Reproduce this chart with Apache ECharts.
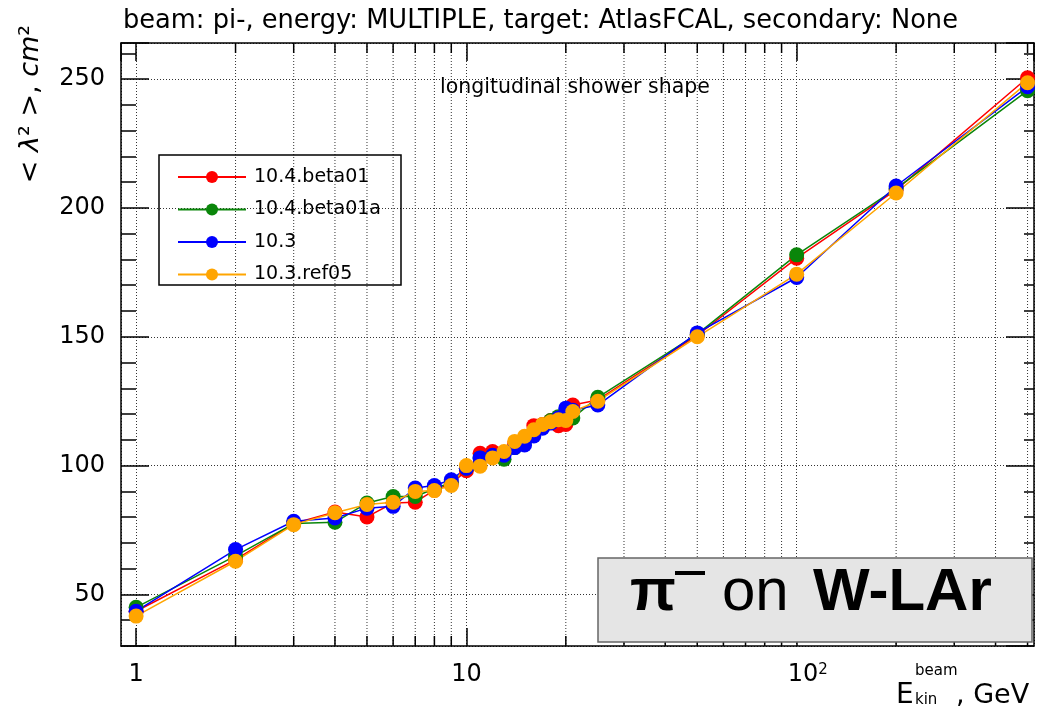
<!DOCTYPE html>
<html>
<head>
<meta charset="utf-8">
<script src="https://cdn.jsdelivr.net/npm/echarts@6.0.0/dist/echarts.min.js"></script>
<style>
  html, body { margin: 0; padding: 0; background: #fff; }
  #chart { width: 1039px; height: 710px; }
</style>
</head>
<body>
<div id="chart"></div>
<script>
// beam energies, GeV
const energies = [1, 2, 3, 4, 5, 6, 7, 8, 9, 10, 11, 12, 13, 14, 15, 16, 17, 18, 19, 20, 21, 25, 50, 100, 200, 500]

// <lambda^2>, cm^2 per release
const beta01 = [43.5, 63.5, 77.5, 82, 80.1, 85.5, 85.8, 90.5, 93, 98, 104.8, 105.5, 105, 108.5, 110.5, 115.5, 116, 117.5, 115.5, 116, 123.5, 125.5, 150.5, 180.5, 207, 250.5]
const beta01a = [45, 65, 77.5, 78, 85.5, 88, 88, 91, 93.5, 99, 103, 103.5, 102.5, 107, 109.5, 113, 115.5, 117.5, 119, 118.5, 118.5, 126.5, 151, 181.8, 207.5, 245.5]
const v103 = [43.5, 67.4, 78.4, 79.7, 83.5, 84.2, 91.3, 92.3, 94.5, 99, 103, 104, 104, 107, 108, 111.5, 114.5, 116.5, 118.5, 122.3, 121.5, 123.5, 151.5, 173, 208.5, 247]
const ref05 = [41.6, 62.9, 77.1, 81.7, 84.9, 85.8, 90, 90.3, 92.3, 100, 99.8, 103, 105.5, 109.4, 111.4, 113.9, 116, 117, 117.8, 117.5, 121, 125, 150, 174.3, 205.8, 248.6]

const seriesNames = ['10.4.beta01', '10.4.beta01a', '10.3', '10.3.ref05']
const seriesColors = ['#ff0000', '#0a860a', '#0000ff', '#ffa500']

// log-axis minor ticks (2..9 per decade)
const xMinorTicks = [2, 3, 4, 5, 6, 7, 8, 9, 20, 30, 40, 50, 60, 70, 80, 90, 200, 300, 400, 500]
const xRange = [0.9, 523]
const yRange = [30, 264]

const FONT = 'DejaVu Sans'
const dotted = { color: '#333', width: 1, type: [1, 2] }
const black = { color: '#000', width: 1.5 }

const chart = echarts.init(document.getElementById('chart'))

const lineSeries = (name, values, color) => ({
  name,
  type: 'line',
  data: energies.map((e, i) => [e, values[i]]),
  symbol: 'circle',
  symbolSize: 15,
  itemStyle: { color },
  lineStyle: { color, width: 1.5 },
  z: 3
})

const xLabel = (v) => {
  if (Math.abs(v - 1) < 1e-6) return '1'
  if (Math.abs(v - 10) < 1e-6) return '10'
  if (Math.abs(v - 100) < 1e-4) return '{p|10}{s|2}'
  return ''
}

const option = {
  animation: false,
  textStyle: { fontFamily: FONT, color: '#000' },
  grid: { left: 121, right: 5, top: 43, bottom: 64, containLabel: false, outerBoundsMode: 'none' },
  legend: {
    orient: 'vertical',
    left: 172,
    top: 162,
    itemWidth: 68,
    itemHeight: 15,
    itemGap: 12.5,
    data: seriesNames,
    textStyle: { fontFamily: FONT, fontSize: 19, color: '#000', lineHeight: 20, padding: [0, 0, 0, 3] }
  },
  xAxis: [
    {
      type: 'log', logBase: 10, position: 'bottom', min: xRange[0], max: xRange[1],
      axisLine: { show: true, onZero: false, lineStyle: black },
      axisTick: { show: true, inside: true, length: 18, lineStyle: black },
      axisLabel: {
        show: true, margin: 17, fontSize: 24, fontFamily: FONT, color: '#000',
        showMinLabel: false, showMaxLabel: false,
        formatter: xLabel,
        rich: {
          p: { fontSize: 24, fontFamily: FONT, padding: [0, 0, 0, 22] },
          s: { fontSize: 15, fontFamily: FONT, verticalAlign: 'top' }
        }
      },
      splitLine: { show: true, lineStyle: dotted },
      minorTick: { show: false },
      minorSplitLine: { show: false }
    },
    {
      type: 'log', logBase: 10, position: 'top', min: xRange[0], max: xRange[1],
      axisLine: { show: true, onZero: false, lineStyle: black },
      axisTick: { show: true, inside: true, length: 18, lineStyle: black },
      axisLabel: { show: false },
      splitLine: { show: false }
    }
  ],
  yAxis: [
    {
      type: 'value', position: 'left', min: yRange[0], max: yRange[1], splitNumber: 5,
      axisLine: { show: true, lineStyle: black },
      axisTick: { show: true, inside: true, length: 28, lineStyle: black },
      axisLabel: {
        margin: 16, fontSize: 24, fontFamily: FONT, color: '#000',
        formatter: (v) => (v % 50 === 0 ? String(v) : '')
      },
      splitLine: { show: true, lineStyle: dotted }
    },
    {
      type: 'value', position: 'left', min: yRange[0], max: yRange[1], interval: 10,
      axisLine: { show: false },
      axisTick: { show: true, inside: true, length: 15, lineStyle: black },
      axisLabel: { show: false },
      splitLine: { show: false }
    },
    {
      type: 'value', position: 'right', min: yRange[0], max: yRange[1], splitNumber: 5,
      axisLine: { show: true, lineStyle: black },
      axisTick: { show: true, inside: true, length: 28, lineStyle: black },
      axisLabel: { show: false },
      splitLine: { show: false }
    },
    {
      type: 'value', position: 'right', min: yRange[0], max: yRange[1], interval: 10,
      axisLine: { show: false },
      axisTick: { show: true, inside: true, length: 10, lineStyle: black },
      axisLabel: { show: false },
      splitLine: { show: false }
    }
  ],
  series: [
    {
      type: 'custom',
      silent: true,
      z: 1,
      data: xMinorTicks.map((v) => [v, yRange[0]]),
      encode: { x: 0, y: 1 },
      renderItem: (params, api) => {
        const x = api.coord([api.value(0), yRange[0]])[0]
        const cs = params.coordSys
        const top = cs.y
        const bot = cs.y + cs.height
        return {
          type: 'group',
          children: [
            { type: 'line', shape: { x1: x, y1: top, x2: x, y2: bot }, style: { stroke: '#333', lineWidth: 1, lineDash: [1, 2] } },
            { type: 'line', shape: { x1: x, y1: bot, x2: x, y2: bot - 10 }, style: { stroke: '#000', lineWidth: 1.5 } },
            { type: 'line', shape: { x1: x, y1: top, x2: x, y2: top + 10 }, style: { stroke: '#000', lineWidth: 1.5 } }
          ]
        }
      }
    },
    lineSeries(seriesNames[0], beta01, seriesColors[0]),
    lineSeries(seriesNames[1], beta01a, seriesColors[1]),
    lineSeries(seriesNames[2], v103, seriesColors[2]),
    lineSeries(seriesNames[3], ref05, seriesColors[3])
  ],
  graphic: [
    {
      type: 'text', x: 123, y: 21, z: 50,
      style: { text: 'beam: pi-, energy: MULTIPLE, target: AtlasFCAL, secondary: None', font: '25.7px "DejaVu Sans"', fill: '#000', align: 'left', verticalAlign: 'middle' }
    },
    {
      type: 'text', x: 440, y: 88, z: 50,
      style: { text: 'longitudinal shower shape', font: '20.5px "DejaVu Sans"', fill: '#000', align: 'left', verticalAlign: 'middle' }
    },
    {
      type: 'text', x: 31, y: 104, rotation: Math.PI / 2, z: 50,
      style: {
        text: '{n|< }{i|λ}{n|² >, }{i|cm}{n|²}',
        align: 'center', verticalAlign: 'middle',
        rich: {
          n: { font: '27px "DejaVu Sans"', fill: '#000' },
          i: { font: 'italic 27px "DejaVu Sans"', fill: '#000' }
        }
      }
    },
    {
      type: 'rect', z: 50, silent: true,
      shape: { x: 159, y: 155, width: 242, height: 130 },
      style: { fill: 'none', stroke: '#000', lineWidth: 1.5 }
    },
    {
      type: 'rect', z: 60, silent: true,
      shape: { x: 598, y: 558, width: 434, height: 84 },
      style: { fill: '#e5e5e5', stroke: '#666', lineWidth: 1.5 }
    },
    {
      type: 'text', x: 630, y: 623, z: 61,
      style: { text: 'π', font: 'bold 60px "Liberation Sans"', fill: '#000', align: 'left', verticalAlign: 'bottom' }
    },
    {
      type: 'rect', z: 61, silent: true,
      shape: { x: 675, y: 571, width: 30, height: 4 },
      style: { fill: '#000' }
    },
    {
      type: 'text', x: 722, y: 623, z: 61,
      style: { text: 'on', font: '60px "Liberation Sans"', fill: '#000', align: 'left', verticalAlign: 'bottom' }
    },
    {
      type: 'text', x: 813, y: 623, z: 61,
      style: { text: 'W-LAr', font: 'bold 60px "Liberation Sans"', fill: '#000', align: 'left', verticalAlign: 'bottom' }
    },
    {
      type: 'text', x: 896, y: 696, z: 50,
      style: { text: 'E', font: '28px "DejaVu Sans"', fill: '#000', align: 'left', verticalAlign: 'middle' }
    },
    {
      type: 'text', x: 915, y: 671, z: 50,
      style: { text: 'beam', font: '15px "DejaVu Sans"', fill: '#000', align: 'left', verticalAlign: 'middle' }
    },
    {
      type: 'text', x: 915, y: 700, z: 50,
      style: { text: 'kin', font: '15px "DejaVu Sans"', fill: '#000', align: 'left', verticalAlign: 'middle' }
    },
    {
      type: 'text', x: 956, y: 696, z: 50,
      style: { text: ', GeV', font: '27px "DejaVu Sans"', fill: '#000', align: 'left', verticalAlign: 'middle' }
    }
  ]
}

chart.setOption(option)
</script>
</body>
</html>
